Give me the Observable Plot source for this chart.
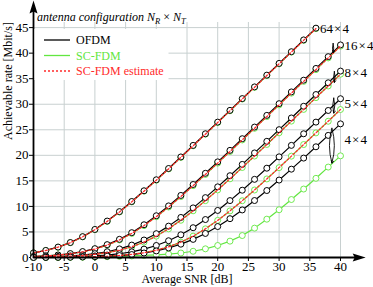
<!DOCTYPE html>
<html><head><meta charset="utf-8">
<script src="https://cdn.jsdelivr.net/npm/d3@7"></script>
<script src="https://cdn.jsdelivr.net/npm/@observablehq/plot@0.6"></script>
<style>body{margin:0;background:#fff}</style>
</head><body><div id="chart"></div>
<script>
// ---- data ----
const snr = [-10,-8,-6,-4,-2,0,2,4,6,8,10,12,14,16,18,20,22,24,26,28,30,32,34,36,38,40];
const configs = ["64\u200a×\u200a4","16\u200a×\u200a4","8\u200a×\u200a4","5\u200a×\u200a4","4\u200a×\u200a4"];

const ofdm64 = [0.91,1.38,2.04,2.93,4.08,5.49,7.13,8.98,10.96,13.06,15.21,17.42,19.68,21.94,24.22,26.50,28.80,31.10,33.39,35.69,37.99,40.28,42.59,44.89];
const ofdm16 = [0.20,0.32,0.49,0.76,1.16,1.73,2.52,3.56,4.86,6.41,8.17,10.10,12.15,14.29,16.48,18.72,20.97,23.25,25.53,27.82,30.11,32.41,34.71,37.01,39.31,41.61];
const ofdm8  = [0.08,0.13,0.20,0.31,0.49,0.75,1.13,1.68,2.43,3.42,4.66,6.14,7.84,9.71,11.72,13.83,16.01,18.22,20.47,22.74,25.02,27.31,29.60,31.90,34.20,36.49];
const ofdm5  = [0.03,0.05,0.08,0.13,0.20,0.31,0.48,0.74,1.11,1.64,2.35,3.28,4.44,5.83,7.43,9.21,11.14,13.17,15.30,17.48,19.70,21.95,24.22,26.50,28.78,31.08];
const ofdm4  = [0.02,0.03,0.04,0.06,0.10,0.16,0.25,0.38,0.58,0.88,1.29,1.86,2.61,3.55,4.71,6.06,7.60,9.31,11.15,13.11,15.16,17.29,19.46,21.67,23.90,26.16];

const sc64 = [0.90,1.37,2.02,2.90,4.04,5.44,7.07,8.91,10.89,12.99,15.13,17.34,19.60,21.86,24.14,26.42,28.72,31.02,33.31,35.61,37.91,40.20,42.51,44.81];
const sc16 = [0.19,0.30,0.47,0.73,1.11,1.66,2.42,3.44,4.71,6.24,7.98,9.89,11.93,14.06,16.25,18.48,20.74,23.01,25.29,27.58,29.87,32.17,34.47,36.77,39.07,41.37];
const sc8  = [0.07,0.10,0.16,0.25,0.40,0.62,0.94,1.42,2.10,3.01,4.19,5.62,7.29,9.14,11.13,13.23,15.40,17.62,19.86,22.13,24.41,26.70,28.99,31.29,33.58,35.88];
const sc5  = [0.02,0.03,0.04,0.07,0.10,0.16,0.25,0.40,0.61,0.94,1.42,2.09,3.00,4.18,5.61,7.27,9.12,11.11,13.21,15.38,17.59,19.84,22.11,24.39,26.67,28.97];
const sc4  = [0.01,0.02,0.03,0.05,0.07,0.11,0.16,0.22,0.30,0.40,0.52,0.67,0.88,1.22,1.70,2.35,3.20,4.30,5.75,7.50,9.35,11.35,13.40,15.50,17.70,19.90];

// the estimate curves lie on the SC-FDM curves in the picture (none for 4×4)
const est64 = sc64, est16 = sc16, est8 = sc8, est5 = sc5;

const xTicks = [-10,-5,0,5,10,15,20,25,30,35,40];
const yTicks = [0,5,10,15,20,25,30,35,40,45];

// OFDM -> SC-FDM loop arrows near the right end (snr, top rate, bottom rate)
const loopX = [38.8, 39.0, 38.9, 38.6];
const loopTop = [41.9, 36.4, 31.2, 25.3];
const loopBottom = [40.1, 34.3, 28.3, 18.5];

// axis arrow tips (data units)
const axisTipX = 44.1, axisTipY = 50.3;

// ---- build tables ----
const ofdmSeries = [ofdm64, ofdm16, ofdm8, ofdm5, ofdm4];
const scSeries = [sc64, sc16, sc8, sc5, sc4];
const estSeries = [est64, est16, est8, est5];
const rows = (arr, cfg) => arr.map((v, i) => ({snr: snr[i], rate: v, cfg}));
const ofdmRows = ofdmSeries.flatMap((a, j) => rows(a, configs[j]));
const scRows = scSeries.flatMap((a, j) => rows(a, configs[j]));
const estRows = estSeries.flatMap((a, j) => rows(a, configs[j]));
const labelRows = configs.map((c, j) => {
  const o = ofdmSeries[j], s = scSeries[j];
  return {cfg: c, snr: snr[o.length - 1], rate: (o[o.length - 1] + s[s.length - 1]) / 2};
});
const loops = loopX.map((x, i) => ({x, y1: loopTop[i], y2: loopBottom[i]}));

const GREEN = "#62e640", RED = "#ff2b2b", GRID = "#c8d0d0";
const FONT = "'Liberation Serif', 'Times New Roman', serif";

const arrowHead = {draw(ctx) { ctx.moveTo(0, 0); ctx.lineTo(-4, 13); ctx.lineTo(0, 11); ctx.lineTo(4, 13); ctx.closePath(); }};

const svg = Plot.plot({
  width: 373, height: 287,
  marginLeft: 33, marginRight: 33, marginTop: 22, marginBottom: 30,
  style: {fontFamily: FONT, fontSize: "13px", background: "#fff", overflow: "visible"},
  x: {domain: [-10, 40]},
  y: {domain: [0, 46]},
  marks: [
    Plot.gridX(xTicks, {stroke: GRID, strokeOpacity: 1, strokeWidth: 1}),
    Plot.gridY(yTicks, {stroke: GRID, strokeOpacity: 1, strokeWidth: 1}),
    Plot.axisX(xTicks, {tickSize: 4, tickPadding: 0, tickFormat: d => String(d), label: null}),
    Plot.axisY(yTicks, {tickSize: 4, tickPadding: 1, tickFormat: d => String(d), label: null}),
    Plot.line(scRows, {x: "snr", y: "rate", z: "cfg", stroke: GREEN, strokeWidth: 1.2}),
    Plot.dot(scRows, {x: "snr", y: "rate", r: 3, fill: "white", stroke: GREEN, strokeWidth: 0.9}),
    Plot.line(ofdmRows, {x: "snr", y: "rate", z: "cfg", stroke: "black", strokeWidth: 1.2}),
    Plot.dot(ofdmRows, {x: "snr", y: "rate", r: 3, fill: "white", stroke: "black", strokeWidth: 1}),
    Plot.line(estRows, {x: "snr", y: "rate", z: "cfg", stroke: RED, strokeWidth: 1.3, strokeDasharray: "2,2"}),
    Plot.arrow(loops, {x: "x", y1: "y1", y2: "y2", bend: 16, headLength: 4, strokeWidth: 0.9, stroke: "black"}),
    Plot.arrow(loops, {x: "x", y1: "y1", y2: "y2", bend: -16, headLength: 0, strokeWidth: 0.9, stroke: "black"}),
    Plot.text(labelRows, {x: "snr", y: "rate", text: "cfg", dx: 4, textAnchor: "start", fontSize: 13}),
    Plot.link([{x1: -10, y1: 0, x2: axisTipX - 1.5, y2: 0}], {x1: "x1", y1: "y1", x2: "x2", y2: "y2", strokeWidth: 1.8, stroke: "black"}),
    Plot.link([{x1: -10, y1: -0.15, x2: -10, y2: axisTipY - 2}], {x1: "x1", y1: "y1", x2: "x2", y2: "y2", strokeWidth: 1.8, stroke: "black"}),
    Plot.dot([{x: -10, y: axisTipY}], {x: "x", y: "y", symbol: arrowHead, r: 5, fill: "black", stroke: "none"}),
    Plot.dot([{x: axisTipX, y: 0}], {x: "x", y: "y", symbol: arrowHead, rotate: 90, r: 5, fill: "black", stroke: "none"}),
    Plot.text(["Average SNR [dB]"], {frameAnchor: "bottom", dy: 25.5, fontSize: 12, text: d => d}),
    Plot.text(["Achievable rate [Mbit/s]"], {frameAnchor: "left", dx: -25, rotate: -90, fontSize: 12, text: d => d})
  ]
});
document.getElementById("chart").appendChild(svg);

// ---- legend and header (text kept as real SVG text) ----
const s = d3.select(svg);
const lg = s.append("g").attr("font-family", FONT).attr("font-size", 12).attr("text-anchor", "start");
lg.append("rect").attr("x", 34.5).attr("y", 29).attr("width", 134).attr("height", 51).attr("fill", "white");
const legendItems = [
  {label: "OFDM", color: "black", dash: null, y: 40},
  {label: "SC-FDM", color: GREEN, dash: null, y: 55.5},
  {label: "SC-FDM estimate", color: RED, dash: "2,2", y: 71}
];
for (const it of legendItems) {
  lg.append("line").attr("x1", 44).attr("x2", 70).attr("y1", it.y).attr("y2", it.y)
    .attr("stroke", it.color).attr("stroke-width", 1.3).attr("stroke-dasharray", it.dash);
  lg.append("text").attr("x", 76).attr("y", it.y + 4).attr("fill", it.color).text(it.label);
}
const t = s.append("text").attr("x", 37).attr("y", 21).attr("text-anchor", "start")
  .attr("font-family", FONT).attr("font-size", 12).attr("font-style", "italic");
t.append("tspan").text("antenna configuration N");
t.append("tspan").attr("dy", 2.5).attr("font-size", 8.5).text("R");
t.append("tspan").attr("dy", -2.5).attr("font-style", "normal").text(" × ");
t.append("tspan").text("N");
t.append("tspan").attr("dy", 2.5).attr("font-size", 8.5).text("T");
</script>
</body></html>
